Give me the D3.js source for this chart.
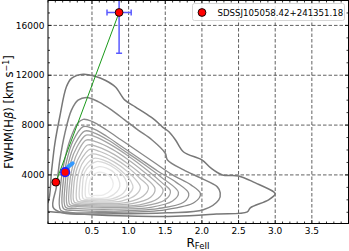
<!DOCTYPE html>
<html>

<head>
  <script src="https://d3js.org/d3.v7.min.js"></script>
  <style>
    body { margin: 0; background: #fff; }
    svg text { font-family: "DejaVu Sans", sans-serif; fill: #000; }
  </style>
</head>

<body>

  <div id="svgcontainer"></div>

  <script>

    /* data */
    var sourceName = "SDSSJ105058.42+241351.18";

    // r_feii and fwhm(hb) of the three measurements: main, low 1, low 2
    var rfe = [0.87, 0.007, 0.134];
    var fwhm = [17040, 3416, 4216];
    var rfeErr = [0.165];
    var fwhmErr = [3280];

    // small light blue mark next to the second low point
    var blueMark = [[0.162, 4584], [0.236, 4936]];

    var xTicks = [0.5, 1.0, 1.5, 2.0, 2.5, 3.0, 3.5];
    var yTicks = [4000, 8000, 12000, 16000];

    // density contours of the quasar sample, outermost first
    var c1 = [[-0.16, 1100], [-0.1, 1060], [0.4, 850], [1.0, 700], [1.64, 680], [2.2, 860], [2.62, 1040], [2.66, 1360], [2.91, 2000], [3.0, 2480], [2.98, 2640], [2.73, 3360], [2.5, 3920], [2.28, 4000], [2.12, 4560], [2.0, 5200], [1.75, 5840], [1.64, 6800], [1.55, 7460], [1.46, 7860], [1.36, 8400], [1.23, 8940], [1.09, 9460], [0.95, 10000], [0.82, 11060], [0.68, 11600], [0.54, 11920], [0.38, 12080], [0.22, 11750], [0.15, 11050], [0.06, 8650], [-0.007, 6500], [-0.05, 4400], [-0.1, 1800], [-0.16, 1500]];
    var c2 = [[0.1, 960], [0.8, 880], [1.53, 960], [2.02, 1200], [2.23, 2000], [2.25, 2560], [2.21, 3040], [1.98, 3760], [1.75, 4400], [1.53, 5200], [1.5, 5740], [1.32, 6800], [1.13, 7600], [0.95, 8400], [0.77, 9200], [0.59, 9860], [0.43, 10220], [0.31, 10000], [0.22, 9200], [0.13, 7340], [0.062, 5200], [0.016, 3060], [-0.03, 1400]];
    var c3 = [[0.2, 1000], [0.8, 1000], [1.5, 1200], [1.9, 1800], [1.98, 2500], [1.85, 3200], [1.6, 4000], [1.35, 5000], [1.1, 6000], [0.9, 6800], [0.7, 7600], [0.5, 8300], [0.38, 8460], [0.3, 8100], [0.2, 6800], [0.12, 5000], [0.07, 3000], [0.07, 1200]];
    var c4 = [[0.25, 1150], [0.8, 1100], [1.4, 1300], [1.75, 1800], [1.82, 2500], [1.65, 3400], [1.4, 4300], [1.15, 5300], [0.9, 6300], [0.7, 7100], [0.5, 7750], [0.38, 7870], [0.24, 6700], [0.15, 5000], [0.1, 3000], [0.11, 1300]];
    var c5 = [[0.3, 1300], [0.8, 1250], [1.3, 1400], [1.6, 1900], [1.68, 2600], [1.45, 3800], [1.2, 4900], [0.95, 5900], [0.72, 6800], [0.52, 7400], [0.4, 7520], [0.27, 6500], [0.18, 5000], [0.13, 3000], [0.14, 1400]];
    var c6 = [[0.3, 1450], [0.7, 1400], [1.2, 1500], [1.5, 2000], [1.57, 2700], [1.45, 3400], [1.25, 4400], [1.0, 5500], [0.75, 6450], [0.55, 7050], [0.42, 7200], [0.3, 6300], [0.21, 5000], [0.16, 3000], [0.17, 1500]];
    var c7 = [[0.32, 1550], [0.7, 1500], [1.15, 1600], [1.4, 2100], [1.47, 2800], [1.38, 3400], [1.22, 4200], [1.0, 5200], [0.78, 6050], [0.56, 6650], [0.42, 6800], [0.32, 6000], [0.24, 4800], [0.19, 3000], [0.2, 1600]];
    var c8 = [[0.34, 1650], [0.65, 1600], [1.05, 1700], [1.3, 2200], [1.36, 2900], [1.2, 3900], [1.0, 4850], [0.8, 5650], [0.58, 6250], [0.44, 6400], [0.35, 5700], [0.27, 4700], [0.22, 3000], [0.23, 1700]];
    var c9 = [[0.37, 1750], [0.65, 1700], [0.98, 1800], [1.2, 2300], [1.27, 3000], [1.15, 3750], [1.0, 4550], [0.8, 5350], [0.6, 5900], [0.47, 6050], [0.38, 5500], [0.3, 4600], [0.25, 3000], [0.26, 1800]];
    var c10 = [[0.4, 1850], [0.62, 1820], [0.9, 1900], [1.1, 2400], [1.16, 3000], [1.1, 3600], [0.98, 4300], [0.8, 5050], [0.62, 5550], [0.5, 5680], [0.4, 5200], [0.33, 4400], [0.29, 3000], [0.3, 1900]];
    var c11 = [[0.44, 1950], [0.6, 1920], [0.82, 2000], [1.0, 2450], [1.06, 3000], [1.03, 3500], [0.96, 4000], [0.82, 4700], [0.65, 5200], [0.53, 5330], [0.44, 4950], [0.37, 4300], [0.33, 3000], [0.34, 2000]];
    var c12 = [[0.46, 2050], [0.58, 2020], [0.78, 2100], [0.93, 2550], [0.98, 3100], [0.93, 3900], [0.82, 4500], [0.68, 4950], [0.56, 5070], [0.47, 4750], [0.4, 4200], [0.37, 3000], [0.38, 2100]];
    var c13 = [[0.48, 2150], [0.56, 2120], [0.72, 2200], [0.84, 2650], [0.88, 3100], [0.86, 3700], [0.8, 4200], [0.7, 4550], [0.6, 4670], [0.51, 4450], [0.44, 3900], [0.41, 3000], [0.42, 2200]];
    var c14 = [[0.55, 2350], [0.66, 2400], [0.76, 2800], [0.79, 3300], [0.75, 3850], [0.67, 4150], [0.58, 4200], [0.5, 3900], [0.46, 3200], [0.47, 2400]];

    var contourLines = [c1, c2, c3, c4, c5, c6, c7, c8, c9, c10, c11, c12, c13, c14];


    /* svg set up */
    var W = 349, H = 251;
    var plot = { left: 48, right: 348.5, top: 0.5, bottom: 223.5 };

    var svg = d3.select("#svgcontainer")
      .append("svg")
      .attr("width", W)
      .attr("height", H);

    var x = d3.scaleLinear().domain([-0.1, 4.0]).range([plot.left, plot.right]);
    var y = d3.scaleLinear().domain([100, 18000]).range([plot.bottom, plot.top]);

    svg.append("clipPath").attr("id", "clip")
      .append("rect")
      .attr("x", plot.left).attr("y", plot.top)
      .attr("width", plot.right - plot.left)
      .attr("height", plot.bottom - plot.top);

    var inner = svg.append("g").attr("clip-path", "url(#clip)");


    /* dashed grid */
    inner.selectAll(".vgrid")
      .data(xTicks)
      .enter()
      .append("line")
      .attr("x1", d => x(d)).attr("x2", d => x(d))
      .attr("y1", plot.top).attr("y2", plot.bottom)
      .attr("stroke", "#3a3a3a")
      .attr("stroke-width", 0.8)
      .attr("stroke-dasharray", "3.5,2");

    inner.selectAll(".hgrid")
      .data(yTicks)
      .enter()
      .append("line")
      .attr("y1", d => y(d)).attr("y2", d => y(d))
      .attr("x1", plot.left).attr("x2", plot.right)
      .attr("stroke", "#3a3a3a")
      .attr("stroke-width", 0.8)
      .attr("stroke-dasharray", "3.5,2");


    /* contours, dark outside to light inside */
    var grey = d3.scaleLinear()
      .domain([0, contourLines.length - 1])
      .range(["#777777", "#ebebeb"]);

    var contourPath = d3.line()
      .x(d => x(d[0]))
      .y(d => y(d[1]))
      .curve(d3.curveCatmullRomClosed.alpha(0.5));

    inner.selectAll(".contour")
      .data(contourLines)
      .enter()
      .append("path")
      .attr("d", d => contourPath(d))
      .attr("fill", "none")
      .attr("stroke", (d, i) => grey(i))
      .attr("stroke-width", (d, i) => i < 2 ? 1.5 : 1.3);


    /* green line from the low point to the main point */
    inner.append("path")
      .attr("d", d3.line()([[x(rfe[1]), y(fwhm[1])], [x(rfe[0]), y(fwhm[0])]]))
      .attr("stroke", "#1a9a1a")
      .attr("stroke-width", 1)
      .attr("fill", "none");

    // light blue mark
    inner.append("path")
      .attr("d", d3.line()(blueMark.map(d => [x(d[0]), y(d[1])])))
      .attr("stroke", "#3399ff")
      .attr("stroke-width", 4)
      .attr("stroke-linecap", "round");


    /* error bars of the main point */
    var errCol = "#5a5aff";
    var cx = x(rfe[0]), cy = y(fwhm[0]);
    var ex1 = x(rfe[0] - rfeErr[0]), ex2 = x(rfe[0] + rfeErr[0]);
    var ey1 = y(fwhm[0] - fwhmErr[0]), ey2 = y(fwhm[0] + fwhmErr[0]);

    inner.append("line").attr("x1", ex1).attr("x2", ex2).attr("y1", cy).attr("y2", cy)
      .attr("stroke", errCol).attr("stroke-width", 1.5);
    inner.append("line").attr("x1", cx).attr("x2", cx).attr("y1", ey1).attr("y2", ey2)
      .attr("stroke", errCol).attr("stroke-width", 1.5);
    [ex1, ex2].forEach(function (ex) {
      inner.append("line").attr("x1", ex).attr("x2", ex).attr("y1", cy - 3).attr("y2", cy + 3)
        .attr("stroke", errCol).attr("stroke-width", 1.5);
    });
    [ey1, ey2].forEach(function (ey) {
      inner.append("line").attr("y1", ey).attr("y2", ey).attr("x1", cx - 3).attr("x2", cx + 3)
        .attr("stroke", errCol).attr("stroke-width", 1.5);
    });


    /* the points */
    inner.selectAll(".pt")
      .data(rfe)
      .enter()
      .append("circle")
      .attr("cx", d => x(d))
      .attr("cy", (d, i) => y(fwhm[i]))
      .attr("r", (d, i) => i == 2 ? 4.3 : 3.9)
      .attr("fill", "#ff0000")
      .attr("stroke", (d, i) => i == 2 ? "#2020ff" : "#000")
      .attr("stroke-width", (d, i) => i == 2 ? 1.6 : 0.9);


    /* ticks, inward on all four sides */
    var xMinor = d3.range(-1, 41).map(d => d / 10).filter(d => xTicks.indexOf(d) < 0);
    var yMinor = d3.range(1, 19).map(d => d * 1000).filter(d => yTicks.indexOf(d) < 0);

    function tickMarks(vals, len, side) {
      vals.forEach(function (v) {
        var l = svg.append("line").attr("stroke", "#000").attr("stroke-width", 0.8);
        if (side == "bottom") l.attr("x1", x(v)).attr("x2", x(v)).attr("y1", plot.bottom).attr("y2", plot.bottom - len);
        if (side == "top") l.attr("x1", x(v)).attr("x2", x(v)).attr("y1", plot.top).attr("y2", plot.top + len);
        if (side == "left") l.attr("y1", y(v)).attr("y2", y(v)).attr("x1", plot.left).attr("x2", plot.left + len);
        if (side == "right") l.attr("y1", y(v)).attr("y2", y(v)).attr("x1", plot.right).attr("x2", plot.right - len);
      });
    }
    tickMarks(xTicks, 3.5, "bottom"); tickMarks(xTicks, 3.5, "top");
    tickMarks(xMinor, 2, "bottom"); tickMarks(xMinor, 2, "top");
    tickMarks(yTicks, 3.5, "left"); tickMarks(yTicks, 3.5, "right");
    tickMarks(yMinor, 2, "left"); tickMarks(yMinor, 2, "right");

    // frame
    svg.append("rect")
      .attr("x", plot.left).attr("y", plot.top)
      .attr("width", plot.right - plot.left)
      .attr("height", plot.bottom - plot.top)
      .attr("fill", "none")
      .attr("stroke", "#000")
      .attr("stroke-width", 1);

    // tick labels
    svg.selectAll(".xlab")
      .data(xTicks)
      .enter()
      .append("text")
      .attr("x", d => x(d))
      .attr("y", 234)
      .attr("text-anchor", "middle")
      .style("font-size", "9px")
      .text(d => d.toFixed(1));

    svg.selectAll(".ylab")
      .data(yTicks)
      .enter()
      .append("text")
      .attr("x", 44.5)
      .attr("y", d => y(d))
      .attr("dy", "0.35em")
      .attr("text-anchor", "end")
      .style("font-size", "9px")
      .text(d => d);


    /* axis titles */
    var xt = svg.append("text")
      .attr("x", 198)
      .attr("y", 246.5)
      .attr("text-anchor", "middle")
      .style("font-size", "12px");
    xt.append("tspan").text("R");
    xt.append("tspan").attr("dy", 2.5).style("font-size", "8.5px").text("FeII");

    var yt = svg.append("text")
      .attr("transform", "translate(13," + ((plot.top + plot.bottom) / 2) + ") rotate(-90)")
      .attr("text-anchor", "middle")
      .style("font-size", "11.5px");
    yt.append("tspan").text("FWHM(H");
    yt.append("tspan").style("font-style", "italic").text("\u03b2");
    yt.append("tspan").text(") [km s");
    yt.append("tspan").attr("dy", -4.5).style("font-size", "8px").text("\u22121");
    yt.append("tspan").attr("dy", 4.5).text("]");


    /* legend */
    svg.append("rect")
      .attr("x", 192.5).attr("y", 3.5)
      .attr("width", 152).attr("height", 17)
      .attr("rx", 2)
      .attr("fill", "rgba(255,255,255,0.8)")
      .attr("stroke", "#cccccc")
      .attr("stroke-width", 0.8);

    svg.append("circle")
      .attr("cx", 202).attr("cy", 12.5)
      .attr("r", 3.9)
      .attr("fill", "#ff0000")
      .attr("stroke", "#000")
      .attr("stroke-width", 0.9);

    svg.append("text")
      .attr("x", 217.5).attr("y", 15.5)
      .style("font-size", "8.6px")
      .text(sourceName);

  </script>
</body>

</html>
